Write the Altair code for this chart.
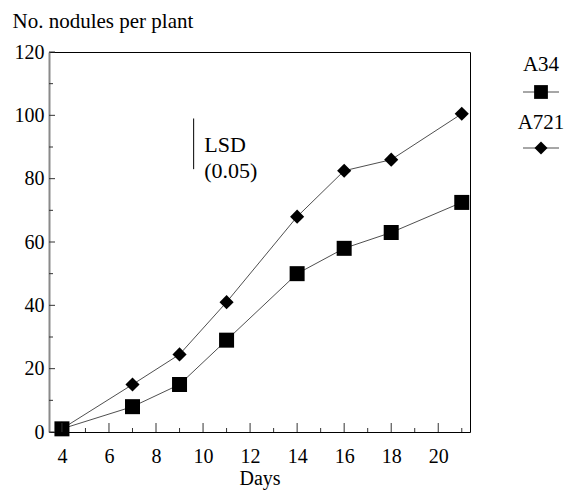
import altair as alt
import pandas as pd

days = [4, 7, 9, 11, 14, 16, 18, 21]
a34 = [1, 8, 15, 29, 50, 58, 63, 72.5]
a721 = [1, 15, 24.5, 41, 68, 82.5, 86, 100.5]
series = ["A34", "A721"]

x_major = [4, 6, 8, 10, 12, 14, 16, 18, 20]
x_minor = [5, 7, 9, 11, 13, 15, 17, 19, 21]
y_major = [0, 20, 40, 60, 80, 100, 120]
y_minor = [10, 30, 50, 70, 90, 110]

lsd_x = 9.6
lsd_lo = 83
lsd_hi = 99

FONT = "Liberation Serif"
W, H = 421, 380

df = pd.DataFrame(
    {"day": days * 2, "val": a34 + a721, "series": ["A34"] * len(days) + ["A721"] * len(days)}
)

xs = alt.Scale(domain=[3.45, 21.35], nice=False, zero=False)
ys = alt.Scale(domain=[0, 120], nice=False)

xaxis = alt.Axis(values=x_major, title="Days", ticks=False, tickSize=0, domain=False, grid=False,
                 labelFont=FONT, labelFontSize=20, labelColor="black", labelPadding=14,
                 titleFont=FONT, titleFontSize=20, titleFontWeight="normal", titleColor="black",
                 titlePadding=2, labelFlush=False)
yaxis = alt.Axis(values=y_major, title="No. nodules per plant", ticks=False, tickSize=0,
                 domain=True, domainColor="#8a8a8a", domainWidth=2,
                 grid=False, labelFont=FONT, labelFontSize=20, labelColor="black", labelPadding=5,
                 titleFont=FONT, titleFontSize=21, titleFontWeight="normal", titleColor="black",
                 titleAngle=0, titleAlign="left", titleBaseline="alphabetic", titleX=-37, titleY=-25)

base = alt.Chart(df)
lines = base.mark_line(color="#222", strokeWidth=0.8).encode(
    x=alt.X("day:Q", scale=xs, axis=xaxis),
    y=alt.Y("val:Q", scale=ys, axis=yaxis),
    detail="series:N",
)
pts = base.mark_point(filled=True, color="black", opacity=1).encode(
    x=alt.X("day:Q", scale=xs),
    y=alt.Y("val:Q", scale=ys),
    shape=alt.Shape("series:N", scale=alt.Scale(domain=series, range=["square", "diamond"]), legend=None),
    size=alt.Size("series:N", scale=alt.Scale(domain=series, range=[225, 200]), legend=None),
)

xt_major = alt.Chart(pd.DataFrame({"t": x_major})).mark_rule(color="#333", strokeWidth=1).encode(
    x=alt.X("t:Q", scale=xs), y=alt.value(H), y2=alt.value(H - 9))
xt_minor = alt.Chart(pd.DataFrame({"t": x_minor})).mark_rule(color="#333", strokeWidth=1).encode(
    x=alt.X("t:Q", scale=xs), y=alt.value(H), y2=alt.value(H - 4))
yt_major = alt.Chart(pd.DataFrame({"t": y_major})).mark_rule(color="#333", strokeWidth=1).encode(
    y=alt.Y("t:Q", scale=ys), x=alt.value(0), x2=alt.value(6))
yt_minor = alt.Chart(pd.DataFrame({"t": y_minor})).mark_rule(color="#333", strokeWidth=1).encode(
    y=alt.Y("t:Q", scale=ys), x=alt.value(0), x2=alt.value(4))

lsd_df = pd.DataFrame({"x": [lsd_x], "lo": [lsd_lo], "hi": [lsd_hi]})
lsd = alt.Chart(lsd_df).mark_rule(color="black", strokeWidth=1).encode(
    x=alt.X("x:Q", scale=xs), y=alt.Y("lo:Q", scale=ys), y2="hi:Q")
lsd_txt = alt.Chart(pd.DataFrame({"x": [lsd_x + 0.45, lsd_x + 0.45], "y": [90.5, 82.5],
                                  "t": ["LSD", "(0.05)"]})).mark_text(
    font=FONT, fontSize=22, align="left", baseline="middle", color="black").encode(
    x=alt.X("x:Q", scale=xs), y=alt.Y("y:Q", scale=ys), text="t:N")

leg_layers = []
LX = 492
leg_items = [("A34", "square", 190, 12.5, 40), ("A721", "diamond", 170, 71, 96)]
for name, shp, sz, ty, my in leg_items:
    leg_layers.append(alt.Chart(pd.DataFrame({"t": [name]})).mark_text(
        font=FONT, fontSize=21, align="center", baseline="middle", color="black").encode(
        x=alt.value(LX), y=alt.value(ty), text="t:N"))
    leg_layers.append(alt.Chart(pd.DataFrame({"t": [name]})).mark_rule(color="#222", strokeWidth=0.8).encode(
        x=alt.value(LX - 18), x2=alt.value(LX + 18), y=alt.value(my)))
    leg_layers.append(alt.Chart(pd.DataFrame({"t": [name]})).mark_point(
        filled=True, color="black", opacity=1, shape=shp, size=sz).encode(
        x=alt.value(LX), y=alt.value(my)))

chart = alt.layer(lines, pts, xt_major, xt_minor, yt_major, yt_minor, lsd, lsd_txt, *leg_layers).properties(
    width=W, height=H,
    autosize=alt.AutoSizeParams(type="none"),
    padding={"left": 41, "top": 44, "right": 97, "bottom": 60},
).configure(background="white", font=FONT).configure_view(stroke="black", strokeWidth=1).configure_text(
    font=FONT).configure_axis(labelFont=FONT, titleFont=FONT)

chart.save("out.html", embed_options={"renderer": "svg", "actions": False})
